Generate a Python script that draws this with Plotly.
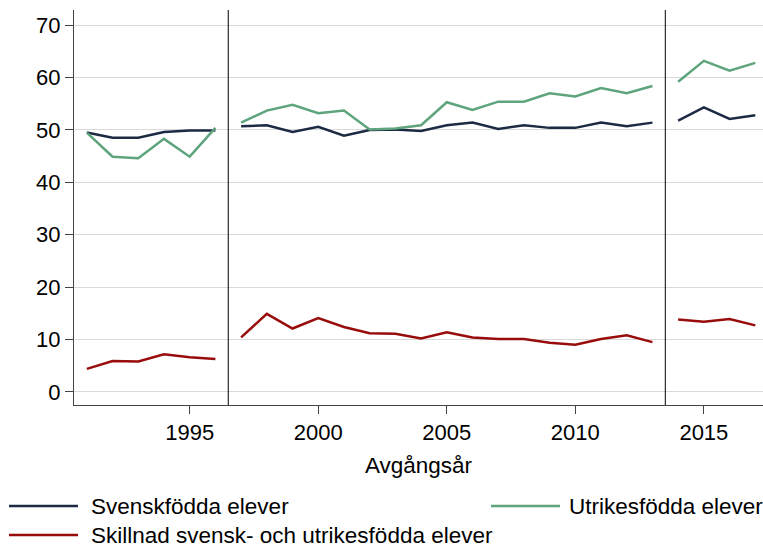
import plotly.graph_objects as go

years_a = [1991, 1992, 1993, 1994, 1995, 1996]
years_b = [1997, 1998, 1999, 2000, 2001, 2002, 2003, 2004, 2005, 2006, 2007, 2008, 2009, 2010, 2011, 2012, 2013]
years_c = [2014, 2015, 2016, 2017]

svensk_a = [49.5, 48.5, 48.5, 49.6, 49.9, 49.9]
svensk_b = [50.7, 50.9, 49.6, 50.6, 48.9, 50.0, 50.1, 49.8, 50.9, 51.4, 50.2, 50.9, 50.4, 50.4, 51.4, 50.7, 51.4]
svensk_c = [51.8, 54.3, 52.1, 52.8]

utrikes_a = [49.5, 44.9, 44.6, 48.3, 44.9, 50.4]
utrikes_b = [51.4, 53.7, 54.8, 53.2, 53.7, 50.1, 50.3, 50.9, 55.3, 53.8, 55.4, 55.4, 57.0, 56.4, 58.0, 57.0, 58.4]
utrikes_c = [59.2, 63.2, 61.3, 62.8]

skillnad_a = [4.4, 5.9, 5.8, 7.2, 6.6, 6.3]
skillnad_b = [10.4, 14.9, 12.1, 14.1, 12.4, 11.2, 11.1, 10.2, 11.4, 10.4, 10.1, 10.1, 9.4, 9.0, 10.1, 10.8, 9.5]
skillnad_c = [13.8, 13.4, 13.9, 12.7]

breaks = [1996.5, 2013.5]
x_ticks = [1995, 2000, 2005, 2010, 2015]
y_ticks = [0, 10, 20, 30, 40, 50, 60, 70]

names = ["Svenskfödda elever", "Utrikesfödda elever", "Skillnad svensk- och utrikesfödda elever"]
colors = ["#1d2a44", "#5ea47d", "#990c0c"]

FONT = "Arial, Liberation Sans, sans-serif"
W, H = 763, 547
ML, MR, MT, MB = 74, 0, 10, 142
PW = W - ML - MR
PH = H - MT - MB

fig = go.Figure()
series = [
    (svensk_a, svensk_b, svensk_c),
    (utrikes_a, utrikes_b, utrikes_c),
    (skillnad_a, skillnad_b, skillnad_c),
]
for name, color, (a, b, c) in zip(names, colors, series):
    for yrs, vals in ((years_a, a), (years_b, b), (years_c, c)):
        fig.add_trace(go.Scatter(x=yrs, y=vals, mode="lines", name=name,
                                 line=dict(color=color, width=2.5),
                                 showlegend=False))

for bx in breaks:
    fig.add_shape(type="line", xref="x", yref="paper", x0=bx, x1=bx, y0=0, y1=1,
                  line=dict(color="black", width=1))

def px_x(px):
    return (px - ML) / PW

def px_y(py):
    return (H - MB - py) / PH

legend_items = [(0, 9, 506, 81), (1, 491, 506, 77), (2, 9, 535, 81)]
for idx, lx, ly, gap in legend_items:
    fig.add_shape(type="line", xref="paper", yref="paper",
                  x0=px_x(lx), x1=px_x(lx + 69), y0=px_y(ly), y1=px_y(ly),
                  line=dict(color=colors[idx], width=2.5))
    fig.add_annotation(xref="paper", yref="paper", x=px_x(lx + gap), y=px_y(ly),
                       text=names[idx], showarrow=False, xanchor="left", yanchor="middle",
                       borderpad=0,
                       font=dict(family=FONT, size=22.5, color="black"))

fig.update_layout(
    width=W, height=H,
    margin=dict(l=ML, r=MR, t=MT, b=MB),
    paper_bgcolor="white", plot_bgcolor="white",
    font=dict(family=FONT, size=22, color="black"),
    showlegend=False,
)
fig.update_xaxes(range=[1990.5, 2017.3], tickvals=x_ticks, ticks="outside", ticklen=8,
                 tickcolor="#444", showline=True, linecolor="#444", linewidth=1,
                 showgrid=False, zeroline=False,
                 title=dict(text="Avgångsår", font=dict(size=22.5), standoff=12))
fig.update_yaxes(range=[-2.5, 72.9], tickvals=y_ticks, ticks="outside", ticklen=8,
                 tickcolor="#444", showline=True, linecolor="#444", linewidth=1,
                 showgrid=True, gridcolor="#dadada", gridwidth=1, zeroline=False)

fig.write_html("out.html", config={"displayModeBar": False},
               post_script="document.body.style.margin='0px';")
